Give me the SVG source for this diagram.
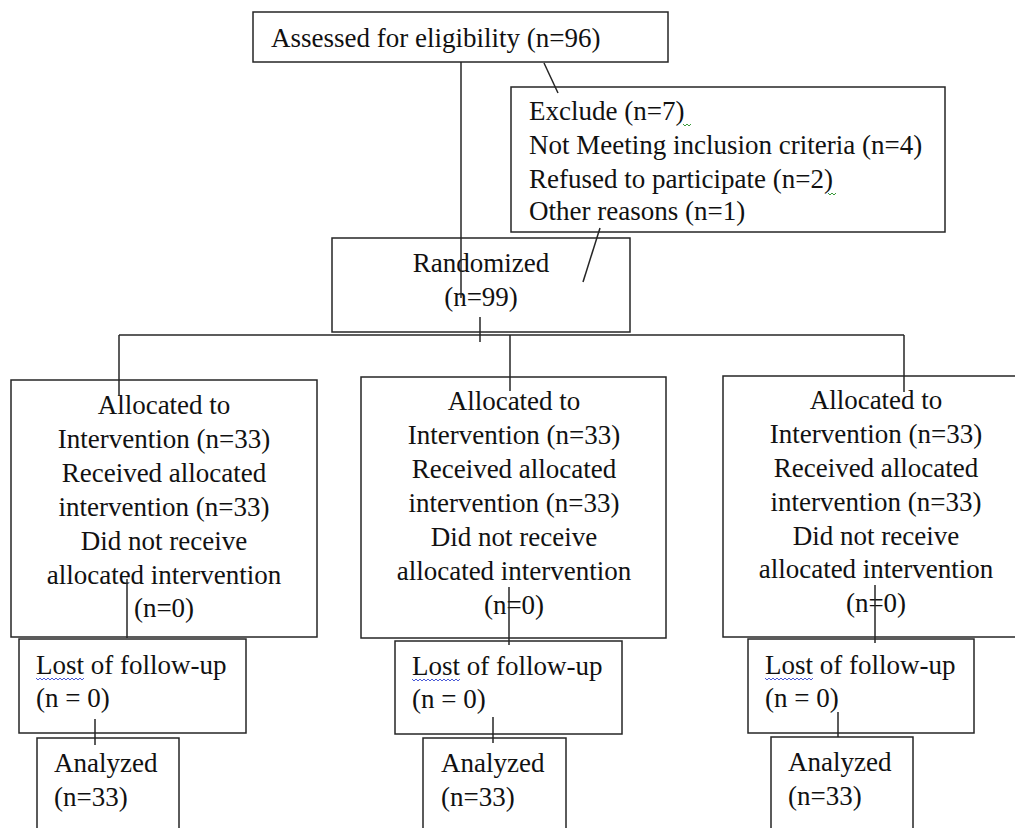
<svg xmlns="http://www.w3.org/2000/svg" width="1015" height="828" viewBox="0 0 1015 828">
<style>
rect.box{fill:#fff;stroke:#262626;stroke-width:1.5}
text{font-family:"Liberation Serif","Times New Roman",serif;font-size:27px;fill:#111}
text.c{text-anchor:middle}
#connectors line{stroke:#262626;stroke-width:1.5}
.sq{fill:none;stroke-width:1}
</style>
<rect width="1015" height="828" fill="#fff"/>
<g id="assessed">
<rect class="box" x="253" y="12" width="415" height="50"/>
<text x="271" y="47">Assessed for eligibility (n=96)</text>
</g>
<g id="exclude">
<rect class="box" x="511" y="87" width="434" height="145"/>
<text x="529" y="120">Exclude (n=7)</text>
<text x="529" y="154">Not Meeting inclusion criteria (n=4)</text>
<text x="529" y="188">Refused to participate (n=2)</text>
<text x="529" y="220">Other reasons (n=1)</text>
<path class="sq" stroke="#3a9a3a" d="M683 124 l2 2 l2 -2 l2 2 l2 -2"/>
<path class="sq" stroke="#3a9a3a" d="M828 193 l2 2 l2 -2 l2 2 l2 -2"/>
</g>
<g id="randomized">
<rect class="box" x="332" y="238" width="298" height="94"/>
<text class="c" x="481" y="272">Randomized</text>
<text class="c" x="481" y="306">(n=99)</text>
</g>
<g id="alloc1">
<rect class="box" x="11" y="380" width="306" height="257"/>
<text class="c" x="164" y="414">Allocated to</text>
<text class="c" x="164" y="448">Intervention (n=33)</text>
<text class="c" x="164" y="482">Received allocated</text>
<text class="c" x="164" y="516">intervention (n=33)</text>
<text class="c" x="164" y="550">Did not receive</text>
<text class="c" x="164" y="584">allocated intervention</text>
<text class="c" x="164" y="617">(n=0)</text>
</g>
<g id="alloc2">
<rect class="box" x="361" y="377" width="305" height="261"/>
<text class="c" x="514" y="410">Allocated to</text>
<text class="c" x="514" y="444">Intervention (n=33)</text>
<text class="c" x="514" y="478">Received allocated</text>
<text class="c" x="514" y="512">intervention (n=33)</text>
<text class="c" x="514" y="546">Did not receive</text>
<text class="c" x="514" y="580">allocated intervention</text>
<text class="c" x="514" y="614">(n=0)</text>
</g>
<g id="alloc3">
<rect class="box" x="723" y="376" width="305" height="261"/>
<text class="c" x="876" y="409">Allocated to</text>
<text class="c" x="876" y="443">Intervention (n=33)</text>
<text class="c" x="876" y="477">Received allocated</text>
<text class="c" x="876" y="511">intervention (n=33)</text>
<text class="c" x="876" y="545">Did not receive</text>
<text class="c" x="876" y="578">allocated intervention</text>
<text class="c" x="876" y="612">(n=0)</text>
</g>
<g id="lost1">
<rect class="box" x="19" y="639" width="227" height="94"/>
<text x="36" y="674">Lost of follow-up</text>
<text x="36" y="707">(n = 0)</text>
<path class="sq" stroke="#4a5ad8" d="M36 678 l2 2 l2 -2 l2 2 l2 -2 l2 2 l2 -2 l2 2 l2 -2 l2 2 l2 -2 l2 2 l2 -2 l2 2 l2 -2 l2 2 l2 -2 l2 2 l2 -2 l2 2 l2 -2 l2 2 l2 -2 l2 2 l2 -2"/>
</g>
<g id="lost2">
<rect class="box" x="395" y="641" width="227" height="93"/>
<text x="412" y="675">Lost of follow-up</text>
<text x="412" y="708">(n = 0)</text>
<path class="sq" stroke="#4a5ad8" d="M412 679 l2 2 l2 -2 l2 2 l2 -2 l2 2 l2 -2 l2 2 l2 -2 l2 2 l2 -2 l2 2 l2 -2 l2 2 l2 -2 l2 2 l2 -2 l2 2 l2 -2 l2 2 l2 -2 l2 2 l2 -2 l2 2 l2 -2"/>
</g>
<g id="lost3">
<rect class="box" x="748" y="639" width="226" height="94"/>
<text x="765" y="674">Lost of follow-up</text>
<text x="765" y="707">(n = 0)</text>
<path class="sq" stroke="#4a5ad8" d="M765 678 l2 2 l2 -2 l2 2 l2 -2 l2 2 l2 -2 l2 2 l2 -2 l2 2 l2 -2 l2 2 l2 -2 l2 2 l2 -2 l2 2 l2 -2 l2 2 l2 -2 l2 2 l2 -2 l2 2 l2 -2 l2 2 l2 -2"/>
</g>
<g id="analyzed1">
<rect class="box" x="37" y="738" width="142" height="110"/>
<text x="54" y="772">Analyzed</text>
<text x="54" y="806">(n=33)</text>
</g>
<g id="analyzed2">
<rect class="box" x="423" y="738" width="143" height="110"/>
<text x="441" y="772">Analyzed</text>
<text x="441" y="806">(n=33)</text>
</g>
<g id="analyzed3">
<rect class="box" x="771" y="737" width="142" height="110"/>
<text x="788" y="771">Analyzed</text>
<text x="788" y="805">(n=33)</text>
</g>
<g id="connectors">
<line x1="461" y1="62" x2="461" y2="298"/>
<line x1="544" y1="63" x2="558" y2="93"/>
<line x1="600" y1="228" x2="583" y2="282"/>
<line x1="480" y1="317" x2="480" y2="342"/>
<line x1="119" y1="335" x2="904" y2="335"/>
<line x1="119" y1="335" x2="119" y2="396"/>
<line x1="510" y1="335" x2="510" y2="391"/>
<line x1="904" y1="335" x2="904" y2="392"/>
<line x1="127" y1="579" x2="127" y2="638"/>
<line x1="509" y1="587" x2="509" y2="645"/>
<line x1="875" y1="585" x2="875" y2="643"/>
<line x1="95" y1="719" x2="95" y2="745"/>
<line x1="493" y1="717" x2="493" y2="743"/>
<line x1="838" y1="712" x2="838" y2="737"/>
</g>
</svg>
